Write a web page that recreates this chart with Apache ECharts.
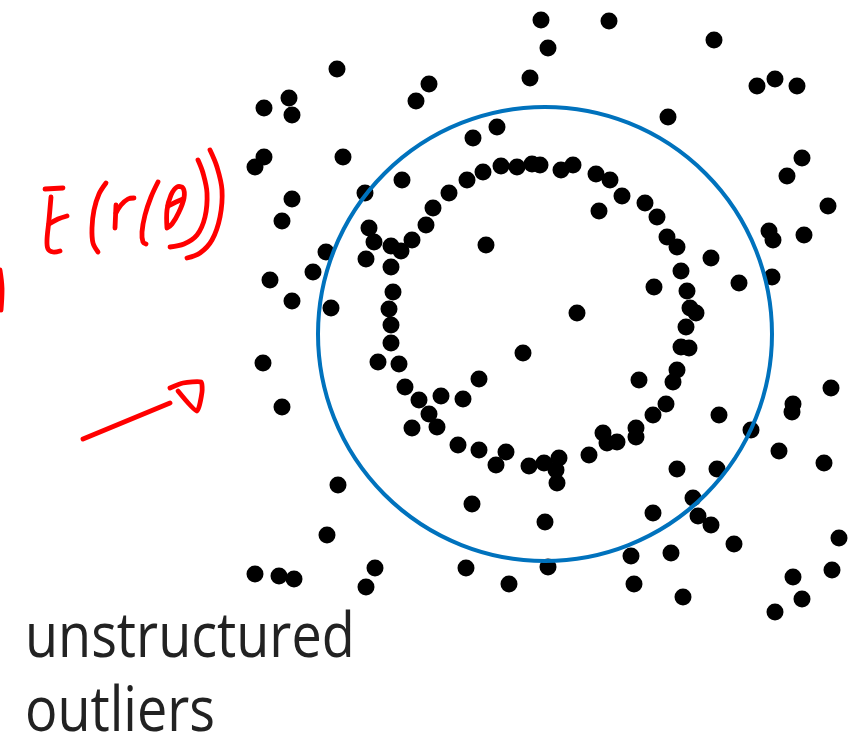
<!DOCTYPE html>
<html>
<head>
<meta charset="utf-8">
<script src="https://cdn.jsdelivr.net/npm/echarts@6/dist/echarts.min.js"></script>
<style>
  html, body { margin: 0; padding: 0; background: #fff; }
  #chart { width: 859px; height: 739px; }
</style>
</head>
<body>
<div id="chart"></div>
<script>
// Points lying along the noisy closed contour (x, y)
const ringPts = [
  [-1.3, 17.0], [-2.8, 16.7], [-4.4, 16.8], [-6.2, 16.2], [-7.8, 15.4], [-9.6, 14.1],
  [-11.2, 12.6], [-11.9, 10.9], [-13.3, 9.4], [-15.4, 8.8], [-14.4, 8.3], [-17.1, 9.2],
  [-17.6, 10.6], [-0.5, 16.9], [1.6, 16.4], [2.8, 16.9], [5.1, 16.0], [6.5, 15.4],
  [7.7, 13.8], [10.0, 13.1], [11.2, 11.7], [12.2, 9.7], [13.2, 8.7], [5.4, 12.3],
  [-17.9, 7.5], [-15.4, 6.7], [-15.2, 4.2], [-15.6, 2.5], [-15.4, 0.9], [-15.4, -0.9],
  [-16.7, -2.8], [-14.6, -3.0], [-14.0, -5.3], [-12.6, -6.6], [-10.4, -6.2], [-8.2, -6.5],
  [-6.6, -4.5], [-2.2, -1.9], [-11.6, -8.0], [-10.8, -9.3], [-13.3, -9.4], [-8.7, -11.1],
  [-6.6, -11.6], [-3.9, -11.8], [-4.9, -13.1], [-1.6, -13.2], [-0.1, -12.9], [-5.9, 8.9],
  [13.6, 6.3], [14.2, 4.3], [14.5, 2.6], [15.1, 2.1], [14.1, 0.7], [13.6, -1.3],
  [14.4, -1.4], [13.2, -3.6], [12.8, -4.8], [12.1, -7.0], [10.8, -8.1], [9.4, -4.6],
  [9.1, -9.4], [9.1, -10.3], [5.8, -9.9], [6.2, -10.9], [7.2, -10.8], [4.4, -12.1],
  [1.4, -12.4], [1.1, -13.6], [1.2, -14.9], [3.2, 2.1], [10.9, 4.7]
];

// Scattered points with no structure (x, y)
const outlierPts = [
  [-0.4, 31.4], [0.3, 28.6], [-20.8, 26.5], [-11.6, 25.0], [-12.9, 23.3], [-1.5, 25.6],
  [-28.1, 22.6], [-25.6, 23.6], [-25.3, 21.9], [-4.8, 20.7], [-7.2, 19.6], [-28.1, 17.7],
  [-29.0, 16.7], [-20.2, 17.7], [-14.3, 15.4], [-18.0, 14.1], [-25.3, 13.5], [-26.3, 11.3],
  [-21.9, 8.2], [6.4, 31.3], [16.9, 29.4], [21.2, 24.8], [23.0, 25.5], [25.2, 24.8],
  [12.3, 21.7], [25.7, 17.6], [24.2, 15.8], [28.3, 12.8], [22.4, 10.3], [22.8, 9.4],
  [25.9, 9.9], [-23.2, 6.2], [-27.5, 5.4], [-25.3, 3.3], [-21.4, 2.6], [-28.2, -2.9],
  [-26.3, -7.3], [-20.7, -15.1], [16.6, 7.6], [19.4, 5.1], [22.7, 5.7], [28.6, -5.4],
  [24.8, -7.0], [24.7, -7.8], [17.4, -8.1], [20.6, -9.6], [23.4, -11.7], [27.9, -12.9],
  [13.2, -13.5], [17.2, -13.5], [-21.8, -20.1], [-29.0, -24.0], [-26.6, -24.2], [-25.1, -24.5],
  [-17.0, -23.4], [-17.9, -25.3], [-7.3, -17.0], [-7.9, -23.4], [-3.6, -25.0], [0.0, -18.8],
  [0.3, -23.3], [10.8, -17.9], [14.8, -16.4], [15.3, -18.2], [16.6, -19.1], [18.9, -21.0],
  [8.6, -22.2], [12.6, -21.9], [8.9, -25.0], [13.8, -26.3], [29.4, -20.4], [28.7, -23.6],
  [24.8, -24.3], [25.7, -26.5], [23.0, -27.8]
];

// Fitted circle: centre x, centre y, radius
const fitCircle = [[0, 0, 22.7]];

// Caption lines
const captionLines = ['unstructured', 'outliers'];

const chart = echarts.init(document.getElementById('chart'));

// Hand-drawn red annotation strokes (screen pixels)
const red = '#ff0000';
function stroke(points, smooth) {
  return {
    type: 'polyline',
    silent: true,
    z: 20,
    shape: { points: points, smooth: smooth === undefined ? 0.35 : smooth },
    style: { stroke: red, lineWidth: 4.8, fill: null, lineCap: 'round', lineJoin: 'round' }
  };
}

const annotation = [
  // E with bar
  stroke([[45, 189], [63, 188]], 0),
  stroke([[51, 197], [49, 220], [47, 240], [48, 249], [53, 252], [60, 251]]),
  stroke([[49, 224], [58, 219], [67, 216]]),
  // (
  stroke([[106, 183], [99, 194], [94, 210], [92, 228], [93, 243], [98, 252]]),
  // r
  stroke([[116, 205], [115, 228]], 0),
  stroke([[116, 213], [121, 205], [128, 199], [134, 198]]),
  // (
  stroke([[158, 182], [151, 197], [145, 215], [142, 232], [143, 242], [146, 244]]),
  // theta
  stroke([[167, 228], [167, 210], [171, 195], [177, 187], [183, 188], [184, 198], [179, 212], [172, 224], [167, 228]]),
  stroke([[168, 206], [176, 202], [183, 199]]),
  // ))
  stroke([[198, 160], [203, 173], [207, 193], [205, 217], [197, 235], [184, 244], [170, 247]]),
  stroke([[210, 150], [217, 167], [222, 190], [220, 217], [212, 240], [200, 253], [187, 258]]),
  // arrow
  stroke([[83, 439], [170, 403]], 0),
  stroke([[170, 388], [183, 383], [201, 382], [202, 392], [197, 411], [178, 391]], 0.2),
  // stroke fragment at left edge
  stroke([[0, 270], [2, 288], [1, 310]])
];

const captions = captionLines.map((t, i) => ({
  type: 'text',
  silent: true,
  x: 25,
  y: 608 + i * 74,
  scaleX: 0.87,
  style: {
    text: t,
    x: 0,
    y: 0,
    fill: '#222222',
    font: '400 62px "Open Sans", sans-serif',
    verticalAlign: 'top',
    align: 'left'
  }
}));

chart.setOption({
  animation: false,
  backgroundColor: '#ffffff',
  grid: { left: 0, right: 0, top: 0, bottom: 0 },
  xAxis: { type: 'value', min: -54.5, max: 31.4, show: false },
  yAxis: { type: 'value', min: -40.5, max: 33.4, show: false },
  series: [
    {
      name: 'contour',
      type: 'scatter',
      data: ringPts,
      symbolSize: 17,
      itemStyle: { color: '#000000', opacity: 1 },
      z: 2
    },
    {
      name: 'outliers',
      type: 'scatter',
      data: outlierPts,
      symbolSize: 17,
      itemStyle: { color: '#000000', opacity: 1 },
      z: 2
    },
    {
      name: 'fit',
      type: 'custom',
      data: fitCircle,
      z: 5,
      renderItem: function (params, api) {
        const c = api.coord([api.value(0), api.value(1)]);
        const r = api.size([api.value(2), 0])[0];
        return {
          type: 'circle',
          shape: { cx: c[0], cy: c[1], r: r },
          style: { fill: null, stroke: '#0072BD', lineWidth: 4 }
        };
      }
    }
  ],
  graphic: annotation.concat(captions)
});
</script>
</body>
</html>
